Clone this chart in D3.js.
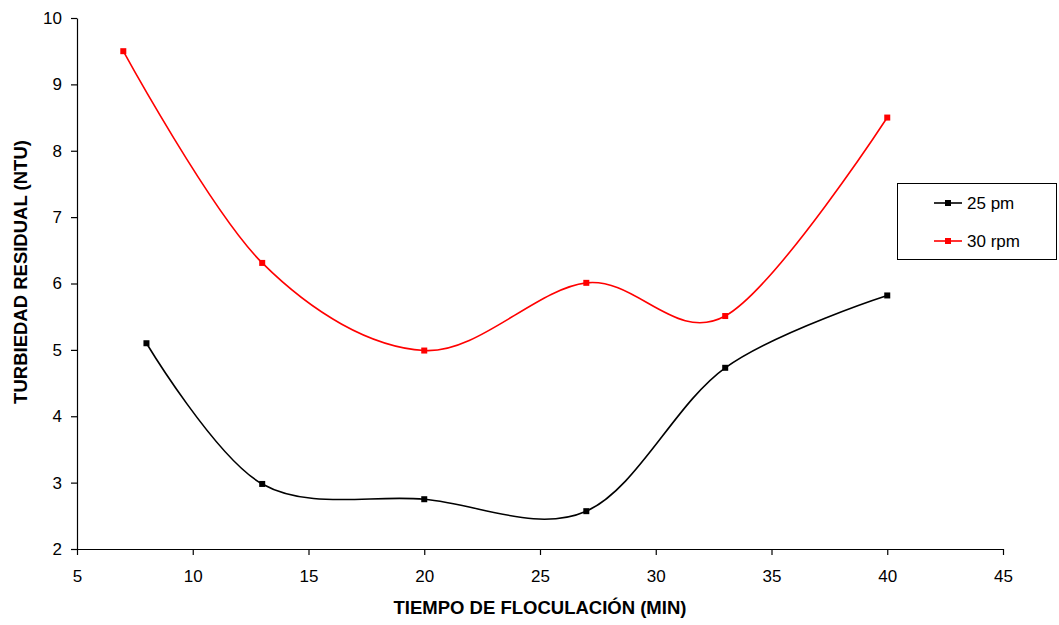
<!DOCTYPE html>
<html><head><meta charset="utf-8">
<script src="https://cdn.jsdelivr.net/npm/d3@7"></script>
<style>body{margin:0;background:#fff}svg{display:block}</style>
</head><body>
<script>
const xTicks = [5,10,15,20,25,30,35,40,45];
const yTicks = [2,3,4,5,6,7,8,9,10];
const s25x = [8,13,20,27,33,40];
const s25y = [5.1,2.98,2.75,2.57,4.73,5.82];
const s30x = [7,13,20,27,33,40];
const s30y = [9.5,6.31,4.99,6.01,5.51,8.5];
const seriesNames = ["25 pm","30 rpm"];
const seriesColors = ["#000000","#ff0000"];

const W=1059,H=625;
const svg=d3.select("body").append("svg").attr("width",W).attr("height",H);
const x=d3.scaleLinear().domain([5,45]).range([77,1003]);
const y=d3.scaleLinear().domain([2,10]).range([549,18]);
const font="Liberation Sans, Arial, sans-serif";

const xa=svg.append("g").attr("transform","translate(0,549)")
  .call(d3.axisBottom(x).tickValues(xTicks).tickSize(6).tickPadding(15).tickSizeOuter(0));
const ya=svg.append("g").attr("transform","translate(77,0)")
  .call(d3.axisLeft(y).tickValues(yTicks).tickSize(6).tickPadding(9).tickSizeOuter(0));
[xa,ya].forEach(a=>{a.selectAll("text").attr("font-family",font).attr("font-size",17).attr("fill","#000");
  a.selectAll("line,path").attr("stroke","#000").attr("stroke-width",1.2);});

svg.append("text").attr("x",540).attr("y",614).attr("text-anchor","middle")
  .attr("font-family",font).attr("font-weight","bold").attr("font-size",18.5).text("TIEMPO DE FLOCULACIÓN (MIN)");
svg.append("text").attr("transform","translate(27,272) rotate(-90)").attr("text-anchor","middle")
  .attr("font-family",font).attr("font-weight","bold").attr("font-size",18.5).text("TURBIEDAD RESIDUAL (NTU)");

const series=[s25x.map((v,i)=>[v,s25y[i]]), s30x.map((v,i)=>[v,s30y[i]])];
const line=d3.line().x(d=>x(d[0])).y(d=>y(d[1])).curve(d3.curveCatmullRom.alpha(0));
series.forEach((s,k)=>{
  svg.append("path").attr("d",line(s)).attr("fill","none").attr("stroke",seriesColors[k]).attr("stroke-width",1.6);
  svg.selectAll(null).data(s).enter().append("rect")
    .attr("x",d=>x(d[0])-3).attr("y",d=>y(d[1])-3).attr("width",6).attr("height",6).attr("fill",seriesColors[k]);
});

const lg=svg.append("g");
lg.append("rect").attr("x",897.5).attr("y",183.5).attr("width",159).attr("height",76).attr("fill","#fff").attr("stroke","#000").attr("stroke-width",1);
seriesNames.forEach((n,k)=>{
  const yy=203+k*38;
  lg.append("line").attr("x1",934).attr("x2",962).attr("y1",yy).attr("y2",yy).attr("stroke",seriesColors[k]).attr("stroke-width",1.6);
  lg.append("rect").attr("x",945).attr("y",yy-3).attr("width",6).attr("height",6).attr("fill",seriesColors[k]);
  lg.append("text").attr("x",967).attr("y",yy+6).attr("font-family",font).attr("font-size",17).text(n);
});
</script>
</body></html>
